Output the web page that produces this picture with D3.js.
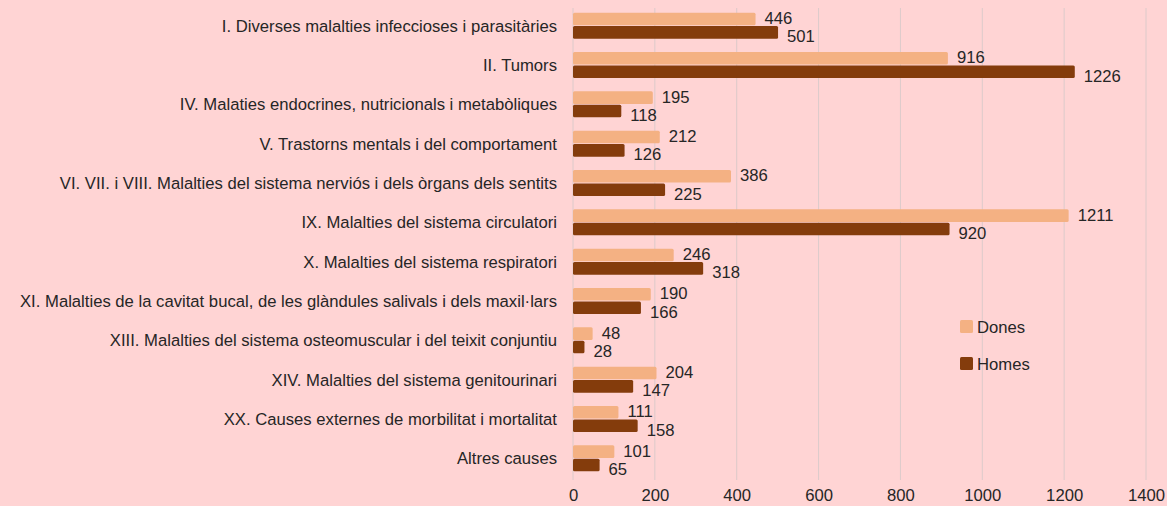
<!DOCTYPE html>
<html>
<head>
<meta charset="utf-8">
<script src="https://cdn.jsdelivr.net/npm/d3@7"></script>
<style>
  body { margin: 0; background: #ffd4d4; }
  svg text { font-family: "Liberation Sans", Arial, sans-serif; fill: #262626; font-size: 17px; }
</style>
</head>
<body>
<div id="chart"></div>
<script>
// Dimensions of the picture.
var width = 1167;
var height = 506;
// Slight horizontal squeeze so the labels keep the original widths.
var squeeze = 0.98;

// Categories, top to bottom.
var categories = [
  "I. Diverses malalties infeccioses i parasitàries",
  "II. Tumors",
  "IV. Malaties endocrines, nutricionals i metabòliques",
  "V. Trastorns mentals i del comportament",
  "VI. VII. i VIII. Malalties del sistema nerviós i dels òrgans dels sentits",
  "IX. Malalties del sistema circulatori",
  "X. Malalties del sistema respiratori",
  "XI. Malalties de la cavitat bucal, de les glàndules salivals i dels maxil·lars",
  "XIII. Malalties del sistema osteomuscular i del teixit conjuntiu",
  "XIV. Malalties del sistema genitourinari",
  "XX. Causes externes de morbilitat i mortalitat",
  "Altres causes"
];

// Series values.
var dones = [446, 916, 195, 212, 386, 1211, 246, 190, 48, 204, 111, 101];
var homes = [501, 1226, 118, 126, 225, 920, 318, 166, 28, 147, 158, 65];

var seriesNames = ["Dones", "Homes"];
var tickValues = [0, 200, 400, 600, 800, 1000, 1200, 1400];

// Colours for each series.
var colors = { "Dones": "#f4b183", "Homes": "#843c0c" };

var svg = d3.select("#chart").append("svg")
    .attr("width", width)
    .attr("height", height);

var x = d3.scaleLinear().domain([0, 1400]).range([573, 1146]);

var y = d3.scaleBand()
    .domain(categories)
    .range([6, 478])
    .paddingInner(0.34)
    .paddingOuter(0.17);

var ySub = d3.scaleBand()
    .domain(seriesNames)
    .range([0, y.bandwidth()])
    .paddingInner(0.06);

// Put a text at (px, py), squeezed a little.
function place(px, py) {
  return "translate(" + px + "," + py + ") scale(" + squeeze + ",1)";
}

// Gridlines.
svg.append("g")
  .selectAll("line")
  .data(tickValues)
  .enter().append("line")
    .attr("x1", function(d) { return x(d); })
    .attr("x2", function(d) { return x(d); })
    .attr("y1", 8)
    .attr("y2", 480)
    .attr("stroke", "#dccaca")
    .attr("stroke-width", 1);

// Bottom axis labels only.
var xAxis = d3.axisBottom(x).tickValues(tickValues).tickFormat(d3.format("d")).tickSize(0).tickPadding(0);
svg.append("g")
    .attr("transform", "translate(0,489)")
    .attr("font-family", null)
    .attr("font-size", null)
    .call(xAxis)
    .call(function(g) { g.select(".domain").remove(); })
    .selectAll("text")
      .attr("y", null)
      .attr("dy", "0.7em")
      .attr("transform", "scale(" + squeeze + ",1)");

// Category labels.
svg.append("g")
  .selectAll("text")
  .data(categories)
  .enter().append("text")
    .attr("transform", function(d) { return place(557, y(d) + y.bandwidth() / 2); })
    .attr("dy", "0.35em")
    .attr("text-anchor", "end")
    .text(function(d) { return d; });

// Flatten rows for bars.
var rows = [];
categories.forEach(function(c, i) {
  rows.push({ cat: c, series: "Dones", value: dones[i] });
  rows.push({ cat: c, series: "Homes", value: homes[i] });
});

var bars = svg.append("g")
  .selectAll("g")
  .data(rows)
  .enter().append("g")
    .attr("transform", function(d) { return "translate(0," + (y(d.cat) + ySub(d.series)) + ")"; });

bars.append("rect")
    .attr("x", x(0))
    .attr("y", 0)
    .attr("width", function(d) { return x(d.value) - x(0); })
    .attr("height", ySub.bandwidth())
    .attr("rx", 1.5)
    .style("fill", function(d) { return colors[d.series]; });

// Value labels; Homes labels drop a bit below the bar, like the original.
bars.append("text")
    .attr("transform", function(d) {
      return place(x(d.value) + 9, ySub.bandwidth() / 2 + (d.series === "Dones" ? -1 : 4));
    })
    .attr("dy", "0.35em")
    .text(function(d) { return d.value; });

// Legend.
var legend = svg.append("g")
  .selectAll("g")
  .data(seriesNames)
  .enter().append("g")
    .attr("transform", function(d, i) { return "translate(960," + (320 + i * 37) + ")"; });

legend.append("rect")
    .attr("width", 13)
    .attr("height", 13)
    .attr("rx", 1.5)
    .style("fill", function(d) { return colors[d]; });

legend.append("text")
    .attr("transform", place(17, 7))
    .attr("dy", "0.35em")
    .text(function(d) { return d; });
</script>
</body>
</html>
